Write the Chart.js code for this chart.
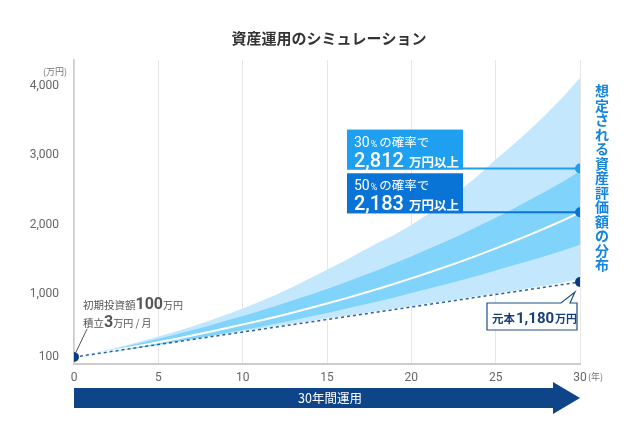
<!DOCTYPE html>
<html lang="ja">
<head>
<meta charset="utf-8">
<title>資産運用のシミュレーション</title>
<script src="https://cdn.jsdelivr.net/npm/chart.js@4.4.0/dist/chart.umd.min.js"></script>
<style>
  html, body { margin: 0; padding: 0; background: #fff; }
  #wrap { width: 627px; height: 426px; position: relative; }
</style>
</head>
<body>
<div id="wrap"><canvas id="simChart" width="627" height="426"></canvas></div>
<script>
// 経過年数
const years = [0,1,2,3,4,5,6,7,8,9,10,11,12,13,14,15,16,17,18,19,20,21,22,23,24,25,26,27,28,29,30];
// 元本（万円）
const principal = [100,136,172,208,244,280,316,352,388,424,460,496,532,568,604,640,676,712,748,784,820,856,892,928,964,1000,1036,1072,1108,1144,1180];
// 中央値（白線）
const median = [100,140,181,223,267,313,360,409,460,513,567,623,681,742,805,870,937,1007,1079,1154,1232,1312,1395,1481,1570,1663,1759,1858,1961,2067,2183];
// 濃い帯（上・下）
const innerUpper = [100,147,195,248,304,363,425,487,552,621,692,763,838,916,998,1079,1167,1259,1349,1448,1546,1653,1758,1866,1986,2104,2225,2360,2490,2625,2772];
const innerLower = [100,133,167,201,238,275,315,356,398,441,488,533,582,631,684,735,787,846,901,958,1023,1082,1144,1207,1272,1347,1416,1486,1559,1633,1714];
// 薄い帯（上・下）
const outerUpper = [100,151,205,263,326,394,464,540,621,708,799,897,1001,1113,1232,1357,1480,1611,1740,1860,2000,2160,2330,2520,2720,2944,3149,3363,3598,3845,4115];
const outerLower = [100,137,175,212,250,287,324,361,398,435,472,508,545,581,618,654,690,726,762,798,834,870,906,942,978,1014,1052,1090,1130,1172,1225];
// 目盛り
const yTicks = [100, 1000, 2000, 3000, 4000];
const xTicks = [0, 5, 10, 15, 20, 25, 30];
// 吹き出し
const calloutValues = [2812, 2183];
const calloutRates = ['30', '50'];
const calloutColors = ['#1e9ff0', '#0a73d6'];

const JP = "'Noto Sans CJK JP', sans-serif";
const NUM = "Roboto, 'Noto Sans CJK JP', sans-serif";
const NAVY = '#0e4589';

function toPoints(arr) {
    return arr.map((v, i) => ({ x: years[i], y: v }));
}

// 複数のフォントを横に並べて描く
function drawRuns(ctx, x, y, runs, color) {
    ctx.fillStyle = color;
    ctx.textAlign = 'left';
    ctx.textBaseline = 'alphabetic';
    runs.forEach(r => {
        ctx.font = r.font;
        ctx.fillText(r.t, x, y);
        x += ctx.measureText(r.t).width + (r.gap || 0);
    });
}

const overlay = {
    id: 'overlay',
    beforeDatasetsDraw(chart) {
        const ctx = chart.ctx;
        const xs = chart.scales.x, ys = chart.scales.y;
        const endX = xs.getPixelForValue(years[years.length - 1]);
        ctx.save();
        calloutValues.forEach((v, i) => {
            const yy = ys.getPixelForValue(v);
            ctx.strokeStyle = calloutColors[i];
            ctx.lineWidth = 2;
            ctx.beginPath();
            ctx.moveTo(347, yy);
            ctx.lineTo(endX, yy);
            ctx.stroke();
        });
        ctx.restore();
    },
    afterDraw(chart) {
        const ctx = chart.ctx;
        const xs = chart.scales.x, ys = chart.scales.y;
        const area = chart.chartArea;
        ctx.save();

        // タイトル
        ctx.fillStyle = '#333';
        ctx.font = 'bold 15px ' + JP;
        ctx.textAlign = 'center';
        ctx.textBaseline = 'middle';
        ctx.fillText('資産運用のシミュレーション', 329, 38);

        // 単位
        ctx.fillStyle = '#777';
        ctx.font = '9px ' + JP;
        ctx.textAlign = 'right';
        ctx.fillText('(万円)', 67, 72);
        ctx.textAlign = 'left';
        ctx.fillText('(年)', area.right + 8, 377);

        // 確率の吹き出し
        calloutValues.forEach((v, i) => {
            const bottom = ys.getPixelForValue(v) + 1;
            const top = bottom - 40;
            ctx.fillStyle = calloutColors[i];
            ctx.fillRect(347, top, 116, 40);
            drawRuns(ctx, 354, top + 17, [
                { t: calloutRates[i], font: '14px ' + NUM, gap: 1 },
                { t: '%', font: '9px ' + NUM, gap: 2 },
                { t: 'の確率で', font: '12.5px ' + JP }
            ], '#fff');
            drawRuns(ctx, 354, top + 37, [
                { t: v.toLocaleString('en-US'), font: '500 20px ' + NUM, gap: 5 },
                { t: '万円以上', font: 'bold 12.5px ' + JP }
            ], '#fff');
        });

        // 元本の吹き出し
        const px = xs.getPixelForValue(years[years.length - 1]);
        const py = ys.getPixelForValue(principal[principal.length - 1]);
        const bTop = py + 21, bBot = py + 48, bL = px - 93, bR = px - 3;
        ctx.beginPath();
        ctx.moveTo(bL, bTop);
        ctx.lineTo(px - 19, bTop);
        ctx.lineTo(px - 5, py + 10);
        ctx.lineTo(px - 10, bTop);
        ctx.lineTo(bR, bTop);
        ctx.lineTo(bR, bBot);
        ctx.lineTo(bL, bBot);
        ctx.closePath();
        ctx.fillStyle = '#fff';
        ctx.fill();
        ctx.strokeStyle = '#1d4f8c';
        ctx.lineWidth = 1.2;
        ctx.stroke();
        drawRuns(ctx, bL + 5, bTop + 20, [
            { t: '元本', font: 'bold 11.5px ' + JP, gap: 1 },
            { t: principal[principal.length - 1].toLocaleString('en-US'), font: 'bold 15px ' + NUM, gap: 1 },
            { t: '万円', font: 'bold 11px ' + JP }
        ], '#163f7a');

        // 初期投資額の注記
        const sx = xs.getPixelForValue(0), sy = ys.getPixelForValue(principal[0]);
        ctx.strokeStyle = '#555';
        ctx.lineWidth = 1;
        ctx.beginPath();
        ctx.moveTo(sx + 2, sy - 5);
        ctx.lineTo(sx + 13, sy - 28);
        ctx.stroke();
        drawRuns(ctx, 83, 309, [
            { t: '初期投資額', font: '10.5px ' + JP },
            { t: '100', font: 'bold 16px ' + NUM },
            { t: '万円', font: '10px ' + JP }
        ], '#555');
        drawRuns(ctx, 83, 327, [
            { t: '積立', font: '10.5px ' + JP },
            { t: '3', font: 'bold 16px ' + NUM },
            { t: '万円 / 月', font: '10px ' + JP }
        ], '#555');

        // 縦書き
        ctx.fillStyle = '#1584dc';
        ctx.font = 'bold 14px ' + JP;
        ctx.textAlign = 'center';
        ctx.textBaseline = 'middle';
        const vText = '想定される資産評価額の分布';
        for (let i = 0; i < vText.length; i++) {
            ctx.fillText(vText[i], 602, 91 + i * 14.5);
        }

        // 30年間運用の矢印
        const aL = area.left, aTip = area.right, aMid = 398;
        ctx.fillStyle = NAVY;
        ctx.beginPath();
        ctx.moveTo(aL, aMid - 10);
        ctx.lineTo(aTip - 27, aMid - 10);
        ctx.lineTo(aTip - 27, aMid - 16);
        ctx.lineTo(aTip, aMid);
        ctx.lineTo(aTip - 27, aMid + 16);
        ctx.lineTo(aTip - 27, aMid + 10);
        ctx.lineTo(aL, aMid + 10);
        ctx.closePath();
        ctx.fill();
        ctx.fillStyle = '#fff';
        ctx.font = '12.5px ' + JP;
        ctx.textAlign = 'center';
        ctx.fillText('30年間運用', 330, aMid);

        ctx.restore();
    }
};

const ctx = document.getElementById('simChart').getContext('2d');
new Chart(ctx, {
    type: 'line',
    data: {
        datasets: [
            { data: toPoints(innerUpper), fill: '+1', backgroundColor: '#80d3fb', borderWidth: 0, pointRadius: 0, order: 4 },
            { data: toPoints(innerLower), fill: false, borderWidth: 0, pointRadius: 0, order: 4 },
            { data: toPoints(outerUpper), fill: '+1', backgroundColor: '#c3e8fd', borderWidth: 0, pointRadius: 0, order: 5 },
            { data: toPoints(outerLower), fill: false, borderWidth: 0, pointRadius: 0, order: 5 },
            { data: toPoints(median), borderColor: '#ffffff', borderWidth: 2, pointRadius: 0, fill: false, order: 2 },
            {
                data: toPoints(principal), borderColor: '#2a5ea8', borderWidth: 1.5, borderDash: [3, 3], fill: false, order: 1,
                pointRadius: c => (c.dataIndex === 0 || c.dataIndex === years.length - 1) ? 5 : 0,
                pointBackgroundColor: '#0c3a80', pointBorderWidth: 0
            },
            {
                data: calloutValues.map(v => ({ x: years[years.length - 1], y: v })),
                showLine: false, pointRadius: 5, pointBorderWidth: 0,
                pointBackgroundColor: calloutColors, order: 0
            }
        ]
    },
    options: {
        responsive: false,
        animation: false,
        layout: { padding: { left: 0, right: 47, top: 60, bottom: 0 } },
        plugins: {
            legend: { display: false },
            tooltip: { enabled: false },
            filler: { drawTime: 'beforeDatasetsDraw' }
        },
        scales: {
            x: {
                type: 'linear', min: 0, max: 30,
                afterBuildTicks: s => { s.ticks = xTicks.map(v => ({ value: v })); },
                afterFit: s => { s.height = 62; },
                ticks: { color: '#666', font: { family: NUM, size: 12 }, padding: 7, maxRotation: 0 },
                grid: { color: '#e6e6e6', lineWidth: 1, drawTicks: false },
                border: { color: '#cccccc', width: 2 }
            },
            y: {
                min: 0, max: 4374,
                afterBuildTicks: s => { s.ticks = yTicks.map(v => ({ value: v })); },
                afterFit: s => { s.width = 74; },
                ticks: { color: '#666', font: { family: NUM, size: 12 }, padding: 7, callback: v => v.toLocaleString('en-US') },
                grid: { display: false },
                border: { color: '#cccccc', width: 1.5 }
            }
        }
    },
    plugins: [overlay]
});
</script>
</body>
</html>
